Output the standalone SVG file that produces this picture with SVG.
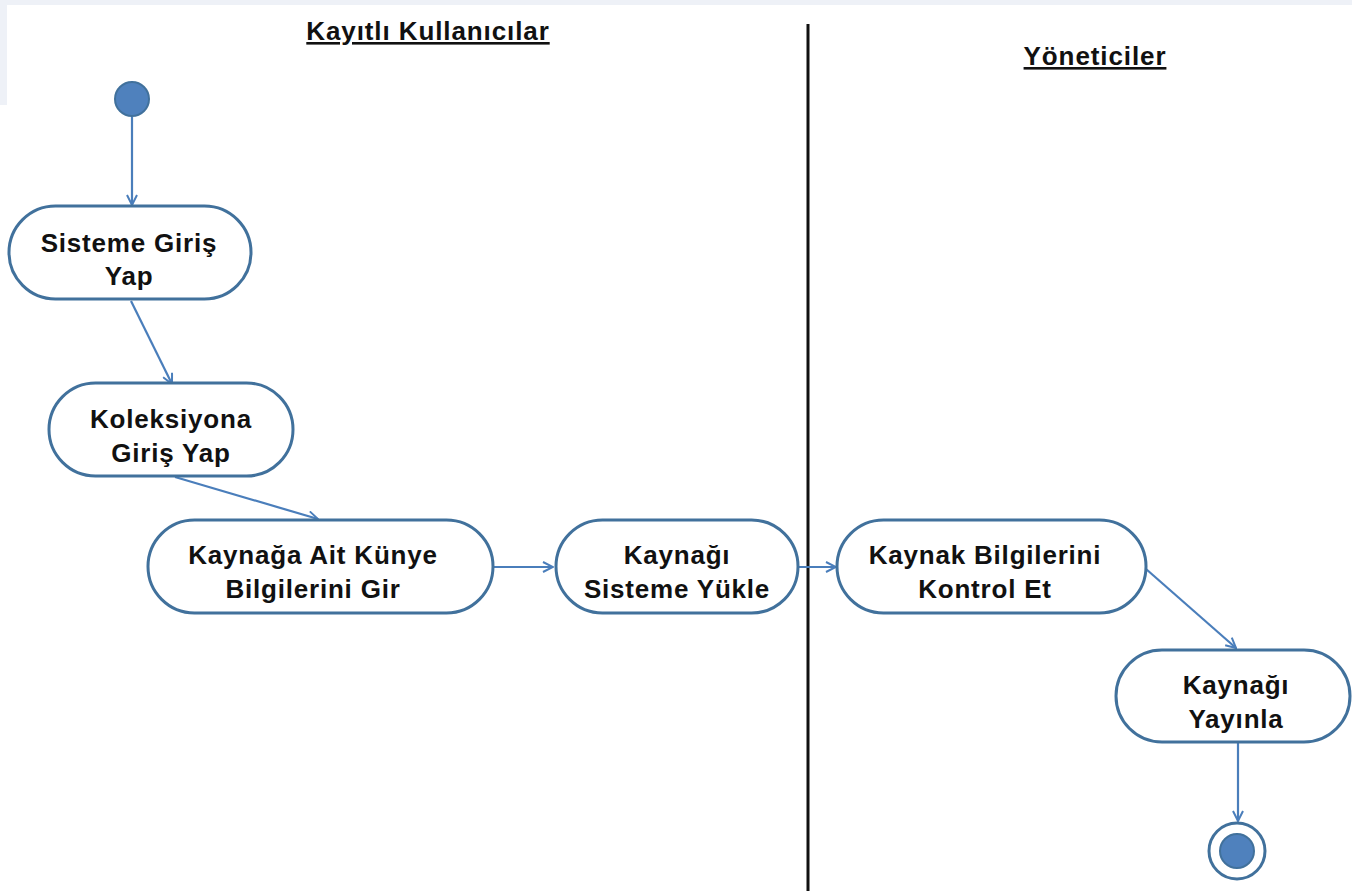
<svg xmlns="http://www.w3.org/2000/svg" width="1352" height="891" viewBox="0 0 1352 891">
<defs>
<style>
.node{fill:#fff;stroke:#41719c;stroke-width:3}
.lbl{font-family:"Liberation Sans",Arial,sans-serif;font-weight:bold;font-size:26px;letter-spacing:0.8px;fill:#111;text-anchor:middle}
.title{font-family:"Liberation Sans",Arial,sans-serif;font-weight:bold;font-size:26px;letter-spacing:0.9px;fill:#111;text-anchor:middle;text-decoration:underline}
.edge{fill:none;stroke:#4a7ebb;stroke-width:2.2;marker-end:url(#arr)}
</style>
<marker id="arr" viewBox="0 0 12 12" refX="11" refY="6" markerWidth="12" markerHeight="12" markerUnits="userSpaceOnUse" orient="auto">
<path d="M1,1 L11,6 L1,11" fill="none" stroke="#4a7ebb" stroke-width="2"/>
</marker>
</defs>
<rect width="1352" height="891" fill="#fff"/>
<rect x="0" y="0" width="1352" height="5" fill="#eef1f7"/>
<rect x="0" y="0" width="7" height="105" fill="#eef1f7"/>
<line x1="808" y1="24" x2="808" y2="891" stroke="#111" stroke-width="3"/>
<text class="title" x="428" y="40">Kayıtlı Kullanıcılar</text>
<text class="title" x="1095" y="65">Yöneticiler</text>
<g id="connectors">
<line class="edge" x1="132" y1="117" x2="132" y2="205"/>
<line class="edge" x1="131" y1="301" x2="172" y2="384"/>
<line class="edge" x1="175" y1="477" x2="318" y2="519"/>
<line class="edge" x1="494" y1="567" x2="553" y2="567"/>
<line class="edge" x1="799" y1="567" x2="836" y2="567"/>
<line class="edge" x1="1146" y1="569" x2="1236" y2="648"/>
<line class="edge" x1="1238" y1="743" x2="1238" y2="821"/>
</g>
<g id="start"><circle cx="132" cy="99" r="17" fill="#4f81bd" stroke="#41719c" stroke-width="2"/></g>
<g id="n1"><rect class="node" x="9" y="206" width="242" height="93" rx="46.5"/><text class="lbl" x="129" y="252">Sisteme Giriş</text><text class="lbl" x="129" y="285">Yap</text></g>
<g id="n2"><rect class="node" x="49" y="383" width="244" height="93" rx="46.5"/><text class="lbl" x="171" y="428">Koleksiyona</text><text class="lbl" x="171" y="462">Giriş Yap</text></g>
<g id="n3"><rect class="node" x="148" y="520" width="345" height="93" rx="46.5"/><text class="lbl" x="313" y="564">Kaynağa Ait Künye</text><text class="lbl" x="313" y="598">Bilgilerini Gir</text></g>
<g id="n4"><rect class="node" x="556" y="520" width="242" height="93" rx="46.5"/><text class="lbl" x="677" y="564">Kaynağı</text><text class="lbl" x="677" y="598">Sisteme Yükle</text></g>
<g id="n5"><rect class="node" x="837" y="520" width="309" height="93" rx="46.5"/><text class="lbl" x="985" y="564">Kaynak Bilgilerini</text><text class="lbl" x="985" y="598">Kontrol Et</text></g>
<g id="n6"><rect class="node" x="1116" y="650" width="234" height="92" rx="46"/><text class="lbl" x="1236" y="694">Kaynağı</text><text class="lbl" x="1236" y="728">Yayınla</text></g>
<g id="end"><circle cx="1237" cy="851" r="28" fill="#fff" stroke="#41719c" stroke-width="3"/><circle cx="1237" cy="851" r="17" fill="#4f81bd" stroke="#41719c" stroke-width="2"/></g>
</svg>
